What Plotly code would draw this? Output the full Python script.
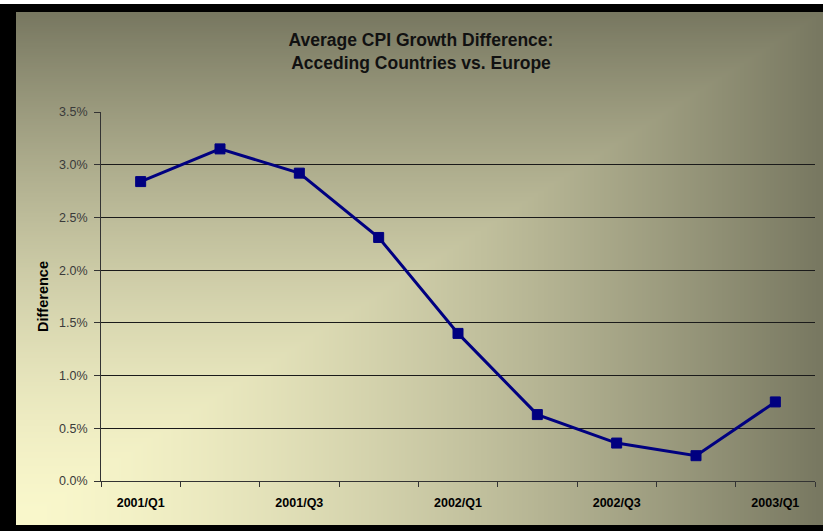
import base64
import struct
import zlib

import numpy as np
import plotly.graph_objects as go

# ---------------- data ----------------
quarters = ["2001/Q1", "2001/Q2", "2001/Q3", "2001/Q4", "2002/Q1",
            "2002/Q2", "2002/Q3", "2002/Q4", "2003/Q1"]
cpi_diff = [2.84, 3.15, 2.92, 2.31, 1.40, 0.63, 0.36, 0.24, 0.75]
tick_labels = ["2001/Q1", "", "2001/Q3", "", "2002/Q1", "", "2002/Q3", "", "2003/Q1"]
title_text = "Average CPI Growth Difference:<br>Acceding Countries vs. Europe"
y_title = "Difference"

# ---------------- background gradient (Excel "from corner" fill) ----------------
W, H = 404, 257
yy, xx = np.mgrid[0:H, 0:W].astype(float)
sx = xx / (W - 1)            # 0 at left edge, 1 at right edge
sy = 1 - yy / (H - 1)        # 0 at bottom edge, 1 at top edge
s = np.maximum(sx, sy)
t = np.clip(1 - s ** 1.5, 0, 1)
dark = np.array([120, 120, 97], float)
light = np.array([250, 248, 204], float)
img = (dark + t[..., None] * (light - dark)).clip(0, 255).astype(np.uint8)


def png_uri(a):
    h, w, _ = a.shape
    raw = b"".join(b"\x00" + a[r].tobytes() for r in range(h))

    def chunk(tag, data):
        c = struct.pack(">I", len(data)) + tag + data
        return c + struct.pack(">I", zlib.crc32(tag + data) & 0xFFFFFFFF)

    png = (b"\x89PNG\r\n\x1a\n"
           + chunk(b"IHDR", struct.pack(">IIBBBBB", w, h, 8, 2, 0, 0, 0))
           + chunk(b"IDAT", zlib.compress(raw, 9))
           + chunk(b"IEND", b""))
    return "data:image/png;base64," + base64.b64encode(png).decode()


# ---------------- layout geometry ----------------
FW, FH = 823, 531
ML, MR, MT, MB = 101, 8, 112, 50
PW = FW - ML - MR
PH = FH - MT - MB


def pxx(x):
    return (x - ML) / PW


def pxy(y):
    return (FH - MB - y) / PH


fig = go.Figure()
fig.add_trace(go.Scatter(
    x=quarters, y=cpi_diff, mode="lines+markers",
    line=dict(color="#000080", width=3),
    marker=dict(symbol="square", size=10, color="#000080",
                line=dict(color="#000080", width=1)),
    showlegend=False, hoverinfo="x+y",
))

fig.update_layout(
    width=FW, height=FH,
    margin=dict(l=ML, r=MR, t=MT, b=MB),
    paper_bgcolor="black",
    plot_bgcolor="rgba(0,0,0,0)",
    font=dict(family="Liberation Sans, Arial, sans-serif", color="black"),
    title=dict(text="<b>" + title_text + "</b>",
               font=dict(size=17.5, color="#111111"),
               x=421 / FW, xref="container", xanchor="center",
               y=1 - 46 / FH, yref="container", yanchor="top"),
    images=[dict(source=png_uri(img), xref="paper", yref="paper",
                 x=pxx(16), y=pxy(12), sizex=807 / PW, sizey=513 / PH,
                 xanchor="left", yanchor="top", sizing="stretch",
                 layer="below")],
    shapes=[dict(type="rect", xref="paper", yref="paper",
                 x0=pxx(0), x1=pxx(FW), y0=pxy(4), y1=pxy(0),
                 fillcolor="white", line=dict(width=0), layer="above")],
)

fig.update_xaxes(
    type="category", tickmode="array", tickvals=quarters, ticktext=tick_labels,
    tickson="boundaries", ticks="outside", ticklen=5, tickcolor="#333333",
    showgrid=False, showline=True, linecolor="#333333", linewidth=1,
    tickfont=dict(size=12.5, color="black", family="Liberation Sans, Arial",
                  weight="bold"),
    ticklabelstandoff=10, range=[-0.5, 8.5], fixedrange=True,
)

fig.update_yaxes(
    range=[0, 3.5], dtick=0.5, tick0=0, tickformat=".1f", ticksuffix="%",
    ticks="outside", ticklen=6, tickcolor="#333333",
    showgrid=True, gridcolor="#1a1a1a", gridwidth=1,
    zeroline=False, showline=True, linecolor="#333333", linewidth=1,
    tickfont=dict(size=12.5, color="#3a3a3a"),
    ticklabelstandoff=4,
    title=dict(text="<b>" + y_title + "</b>", font=dict(size=14.5, color="black"),
               standoff=6),
    fixedrange=True,
)

fig.write_html("out.html")
